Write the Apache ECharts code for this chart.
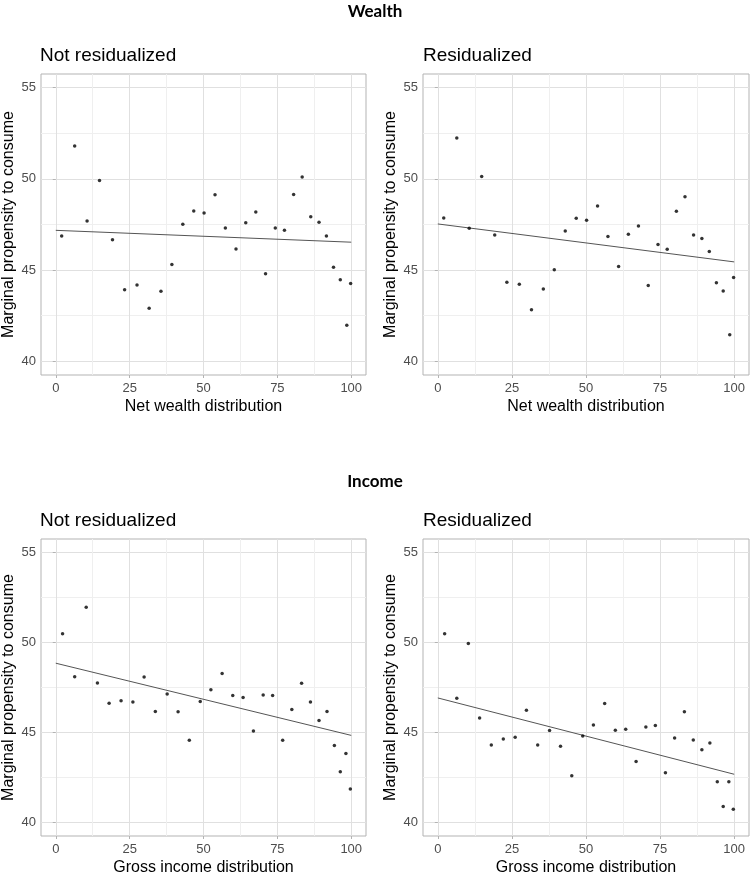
<!DOCTYPE html>
<html>
<head>
<meta charset="utf-8">
<script src="https://cdn.jsdelivr.net/npm/echarts@6/dist/echarts.min.js"></script>
<style>html,body{margin:0;padding:0;background:#fff}#c{width:750px;height:877px}</style>
</head>
<body>
<div id="c"></div>
<script>
// ---- Data ----
const sectionTitles = ["Wealth", "Income"];
const panelTitles = ["Not residualized", "Residualized", "Not residualized", "Residualized"];
const xAxisTitles = ["Net wealth distribution", "Net wealth distribution", "Gross income distribution", "Gross income distribution"];
const yAxisTitle = "Marginal propensity to consume";
const xTicks = [0, 25, 50, 75, 100];
const xMinor = [12.5, 37.5, 62.5, 87.5];
const yTicks = [40, 45, 50, 55];
const yMinor = [42.5, 47.5, 52.5];

const wealthX = [2.0, 6.4, 10.6, 14.8, 19.2, 23.3, 27.5, 31.6, 35.6, 39.3, 43.0, 46.7, 50.2, 53.9, 57.4, 61.0, 64.3, 67.7, 71.0, 74.3, 77.4, 80.5, 83.4, 86.3, 89.1, 91.6, 94.0, 96.3, 98.5, 99.8];
const wealthNotResid = [46.87, 51.80, 47.69, 49.91, 46.67, 43.93, 44.18, 42.91, 43.84, 45.31, 47.51, 48.24, 48.13, 49.13, 47.31, 46.16, 47.60, 48.18, 44.80, 47.31, 47.18, 49.15, 50.11, 47.93, 47.62, 46.87, 45.16, 44.47, 41.98, 44.27];
const wealthResid = [47.85, 52.24, 47.29, 50.13, 46.93, 44.33, 44.22, 42.82, 43.96, 45.02, 47.15, 47.84, 47.73, 48.51, 46.84, 45.20, 46.96, 47.42, 44.16, 46.40, 46.15, 48.22, 49.02, 46.93, 46.73, 46.02, 44.31, 43.85, 41.45, 44.60];

const incomeX = [2.3, 6.4, 10.3, 14.1, 18.05, 22.1, 26.1, 29.9, 33.7, 37.7, 41.4, 45.2, 48.9, 52.5, 56.3, 59.9, 63.4, 66.9, 70.2, 73.4, 76.8, 79.9, 83.2, 86.2, 89.1, 91.8, 94.3, 96.3, 98.2, 99.7];
const incomeNotResid = [50.49, 48.10, 51.96, 47.75, 46.63, 46.77, 46.70, 48.08, 46.17, 47.14, 46.15, 44.57, 46.72, 47.37, 48.28, 47.06, 46.95, 45.08, 47.09, 47.06, 44.57, 46.28, 47.74, 46.70, 45.66, 46.17, 44.28, 42.82, 43.84, 41.86];
const incomeResid = [50.49, 46.90, 49.94, 45.81, 44.30, 44.64, 44.73, 46.23, 44.30, 45.11, 44.24, 42.60, 44.80, 45.41, 46.61, 45.13, 45.18, 43.39, 45.30, 45.39, 42.77, 44.70, 46.15, 44.59, 44.04, 44.41, 42.27, 40.89, 42.27, 40.73];

// fitted line endpoints (x, y) for each panel
const fitX = [0, 100];
const fitWealthNotResid = [47.18, 46.53];
const fitWealthResid = [47.53, 45.45];
const fitIncomeNotResid = [48.85, 44.84];
const fitIncomeResid = [46.92, 42.68];

const panelsX = [wealthX, wealthX, incomeX, incomeX];
const panelsY = [wealthNotResid, wealthResid, incomeNotResid, incomeResid];
const panelsFit = [fitWealthNotResid, fitWealthResid, fitIncomeNotResid, fitIncomeResid];

// ---- Layout ----
const gridPos = [
  {left: 40, top: 74}, {left: 423, top: 74},
  {left: 40, top: 539}, {left: 423, top: 539}
];
const GW = 326, GH = 301;
const XMIN = -5, XMAX = 105, YMIN = 39.25, YMAX = 55.75;
const FONT = "'Liberation Sans', Arial, sans-serif";

const grids = [], xAxes = [], yAxes = [], series = [], titles = [];
const secStyle = {fontFamily: "Lato, 'Open Sans', sans-serif", fontWeight: 'bold', fontSize: 17, color: '#000'};
titles.push({text: sectionTitles[0], left: 'center', top: 3, padding: 0, textStyle: secStyle});
titles.push({text: sectionTitles[1], left: 'center', top: 473, padding: 0, textStyle: secStyle});

for (let i = 0; i < 4; i++) {
  const g = gridPos[i];
  grids.push({left: g.left, top: g.top, width: GW, height: GH, show: true, borderColor: '#b3b3b3', borderWidth: 1, backgroundColor: 'transparent', containLabel: false});
  titles.push({text: panelTitles[i], left: g.left, top: g.top - 28, padding: 0, textStyle: {fontFamily: FONT, fontWeight: 'normal', fontSize: 19, color: '#000'}});
  // major x
  xAxes.push({
    type: 'value', gridIndex: i, min: XMIN, max: XMAX,
    name: xAxisTitles[i], nameLocation: 'middle', nameGap: 24,
    nameTextStyle: {fontFamily: FONT, fontSize: 16, color: '#000'},
    axisLine: {show: false},
    axisTick: {show: true, length: 3, lineStyle: {color: '#b3b3b3', width: 1}, customValues: xTicks},
    axisLabel: {show: true, margin: 7, fontFamily: FONT, fontSize: 13, color: '#4d4d4d', customValues: xTicks},
    splitLine: {show: true, lineStyle: {color: '#e0e0e0', width: 1}}
  });
  // minor x
  xAxes.push({
    type: 'value', gridIndex: i, min: XMIN, max: XMAX,
    axisLine: {show: false},
    axisTick: {show: false, customValues: xMinor},
    axisLabel: {show: false, customValues: xMinor},
    splitLine: {show: true, lineStyle: {color: '#efefef', width: 1}}
  });
  yAxes.push({
    type: 'value', gridIndex: i, min: YMIN, max: YMAX,
    name: yAxisTitle, nameLocation: 'middle', nameGap: 24, nameRotate: 90,
    nameTextStyle: {fontFamily: FONT, fontSize: 16, color: '#000'},
    axisLine: {show: false},
    axisTick: {show: true, length: 3, lineStyle: {color: '#b3b3b3', width: 1}, customValues: yTicks},
    axisLabel: {show: true, margin: 5, fontFamily: FONT, fontSize: 13, color: '#4d4d4d', customValues: yTicks},
    splitLine: {show: true, lineStyle: {color: '#e0e0e0', width: 1}}
  });
  yAxes.push({
    type: 'value', gridIndex: i, min: YMIN, max: YMAX,
    axisLine: {show: false},
    axisTick: {show: false, customValues: yMinor},
    axisLabel: {show: false, customValues: yMinor},
    splitLine: {show: true, lineStyle: {color: '#efefef', width: 1}}
  });
  const xs = panelsX[i], ys = panelsY[i];
  series.push({
    type: 'scatter', xAxisIndex: 2 * i, yAxisIndex: 2 * i,
    data: xs.map((x, k) => [x, ys[k]]),
    symbolSize: 3.5, itemStyle: {color: '#000'}, silent: true, z: 3
  });
  const f = panelsFit[i];
  series.push({
    type: 'line', xAxisIndex: 2 * i, yAxisIndex: 2 * i,
    data: fitX.map((x, k) => [x, f[k]]),
    showSymbol: false, lineStyle: {color: '#555', width: 1}, silent: true, z: 2
  });
}

const chart = echarts.init(document.getElementById('c'), null, {renderer: 'canvas'});
chart.setOption({
  animation: false,
  backgroundColor: '#fff',
  title: titles,
  grid: grids,
  xAxis: xAxes,
  yAxis: yAxes,
  series: series
});
</script>
</body>
</html>
